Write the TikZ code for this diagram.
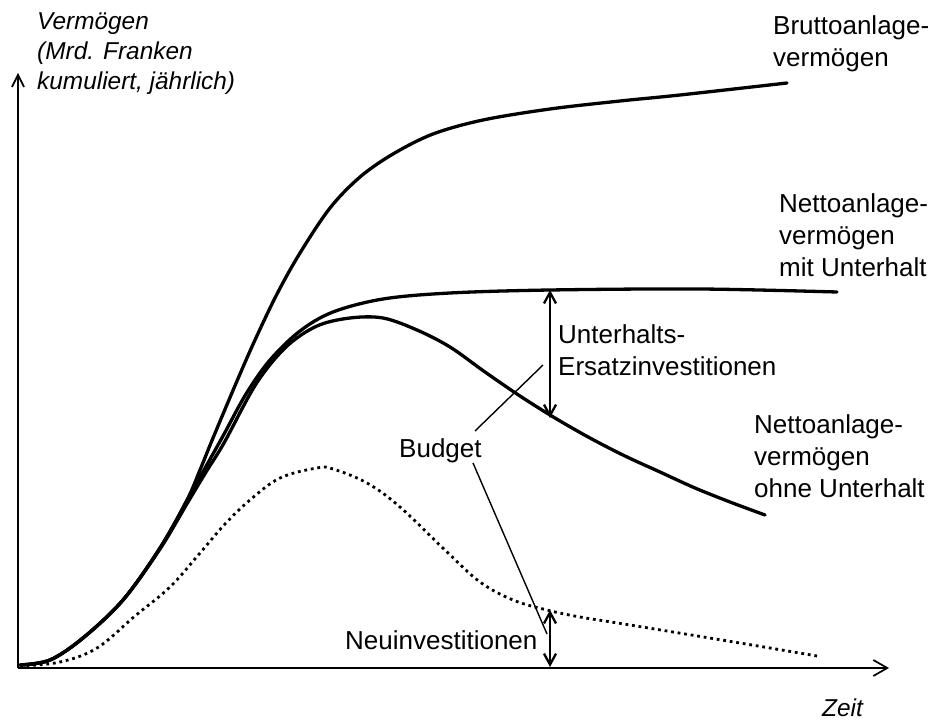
\documentclass[tikz,border=0pt]{standalone}
\usepackage{fontspec}
\setmainfont{Liberation Sans}
\usetikzlibrary{arrows.meta}
% left-aligned stack of lines whose reference point is the first baseline
\newcommand{\stackleft}[1]{\begin{tabular}[t]{@{}l@{}}#1\end{tabular}}
\begin{document}
\begin{tikzpicture}[x=1pt,y=-1pt,
  curve/.style={line width=3.3pt,line cap=round,line join=round},
  dotcurve/.style={line width=2.8pt,dash pattern=on 2.8pt off 3.8pt},
  axis/.style={line width=1.7pt},
  gap/.style={line width=2.3pt,{Straight Barb[length=11pt,width=12pt]}-{Straight Barb[length=11pt,width=12pt]}},
  leader/.style={line width=1.4pt},
  lbl/.style={inner sep=0pt,anchor=base west,font=\fontsize{26}{32}\selectfont},
  ilbl/.style={inner sep=0pt,anchor=base west,font=\fontsize{24.4}{30}\selectfont\itshape}]
\useasboundingbox (0,0) rectangle (932,722);

% axes
\coordinate (O) at (18,668);
\coordinate (ytip) at (18,73);
\coordinate (xtip) at (889,668);
\draw[axis,-{Straight Barb[length=12pt,width=12pt]}] (O) -- (ytip);
\draw[axis,-{Straight Barb[length=14pt,width=16pt]}] (O) -- (xtip);

% Bruttoanlagevermoegen
\draw[curve] plot[smooth,tension=0.55] coordinates {
  (20,665) (50,660) (83,638) (123,600) (160,548) (187,500)
  (200,470) (213,438) (237,381) (255,340) (277,294) (300,253) (330,208)
  (360,177) (393,154) (433,134) (483,120) (550,109) (620,101) (680,95) (787,83)};

% Nettoanlagevermoegen mit Unterhalt
\draw[curve] plot[smooth,tension=0.55] coordinates {
  (20,665) (50,660) (83,638) (123,600) (160,548) (188,499)
  (204,470) (223,436) (246,394) (270,360) (300,331) (333,312) (383,299)
  (450,293) (550,290) (700,289) (837,292)};

% Nettoanlagevermoegen ohne Unterhalt
\draw[curve] plot[smooth,tension=0.55] coordinates {
  (20,665) (50,660) (83,638) (123,600) (160,549) (188,502)
  (206,472) (224,443) (256,384) (286,347) (317,326) (350,318) (383,318)
  (417,330) (450,347) (485,372) (520,396) (555,418) (590,438) (625,456)
  (660,472) (695,488) (730,502) (765,515)};

% Neuinvestitionen (dotted)
\draw[dotcurve] plot[smooth,tension=0.6] coordinates {
  (20,666) (60,662) (97,648) (135,616) (170,587) (200,553) (225,524)
  (250,500) (280,478) (317,468) (333,469) (367,483) (400,507) (447,552)
  (480,582) (513,600) (547,610) (580,617) (630,625) (740,643) (817,656)};

% gaps
\coordinate (ua) at (550,290);
\coordinate (ub) at (550,418);
\coordinate (na) at (550,610);
\coordinate (nb) at (550,667);
\draw[gap] (ua) -- (ub);
\draw[gap] (na) -- (nb);

% labels
\node[ilbl] (yl) at (37,30) {\stackleft{Verm\"ogen\\(Mrd. Franken\\kumuliert, j\"ahrlich)}};
\node[ilbl] (xl) at (822,716) {Zeit};
\node[lbl] (brutto) at (773,35) {\stackleft{Bruttoanlage-\\verm\"ogen}};
\node[lbl] (mit) at (779,213) {\stackleft{Nettoanlage-\\verm\"ogen\\mit Unterhalt}};
\node[lbl] (ohne) at (754,433) {\stackleft{Nettoanlage-\\verm\"ogen\\ohne Unterhalt}};
\node[lbl] (unt) at (558,343) {\stackleft{Unterhalts-\\Ersatzinvestitionen}};
\node[lbl] (neu) at (345,649) {Neuinvestitionen};
\node[lbl] (budget) at (399,457) {Budget};

% leaders from Budget
\coordinate (bu) at (543,365);
\coordinate (bn) at (547,634);
\draw[leader] (475,431) -- (bu);
\draw[leader] (473,463) -- (bn);
\end{tikzpicture}
\end{document}
